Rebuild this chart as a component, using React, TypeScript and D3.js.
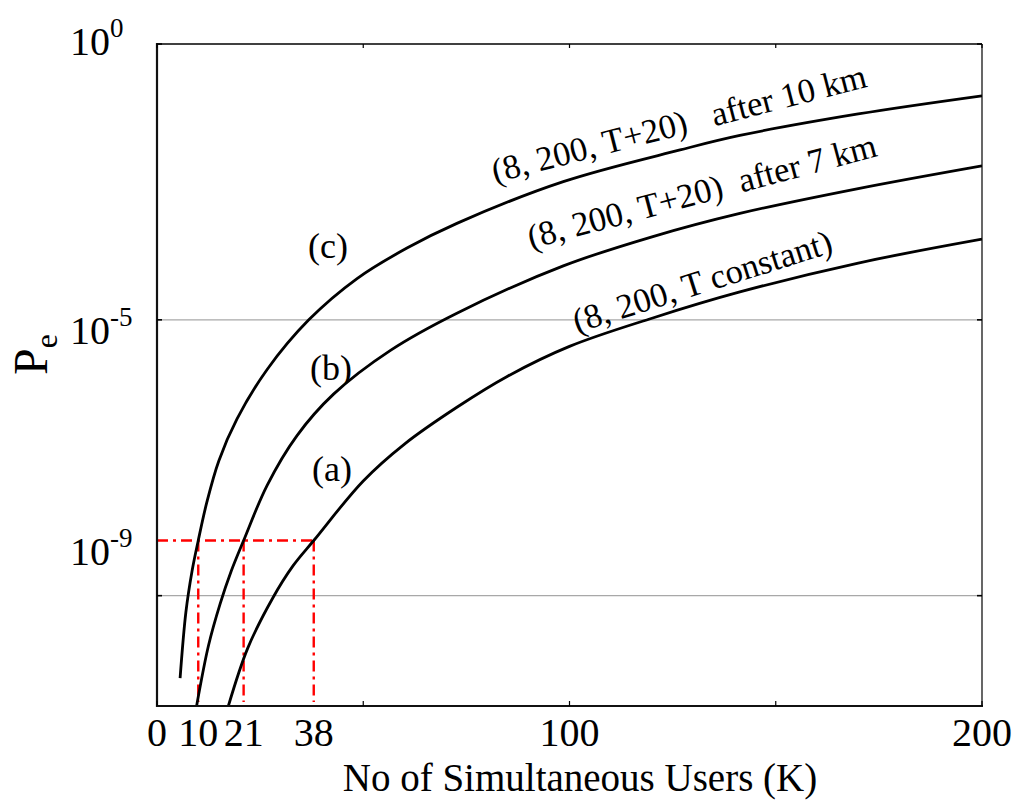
import React from "react";
import * as d3 from "d3";

// Users (K) and error probability Pe for the three fibre-length cases
const usersA = [17.3, 22, 28, 33, 38, 50, 60, 72.7, 85, 100, 120, 141.3, 170, 200];
const peA = [1.0e-12, 1.12e-11, 8.9e-11, 3.5e-10, 1.0e-9, 1.2e-8, 5.6e-8, 2.6e-7, 9.5e-7, 3.3e-6, 1.07e-5, 3.2e-5, 1.07e-4, 2.9e-4];

const usersB = [9.6, 12.5, 15.3, 18, 21, 26.7, 33.9, 42.8, 56.6, 72.7, 98.5, 120, 141.3, 170, 200];
const peB = [1.0e-12, 1.26e-11, 7.1e-11, 2.8e-10, 1.0e-9, 1.0e-8, 7.9e-8, 4.5e-7, 2.8e-6, 1.32e-5, 9.5e-5, 3.2e-4, 8.5e-4, 2.4e-3, 6.2e-3];

const usersC = [5.6, 7, 8.5, 10, 12.1, 15, 19.4, 26.7, 36.8, 48.5, 60.6, 72.7, 98.5, 126.8, 141.3, 170, 200];
const peC = [3.2e-12, 5.0e-11, 2.8e-10, 1.0e-9, 5.0e-9, 2.8e-8, 1.6e-7, 1.26e-6, 1.0e-5, 5.6e-5, 2.0e-4, 5.6e-4, 3.2e-3, 1.2e-2, 2.2e-2, 5.4e-2, 0.115];

// Users supported at the target error rate
const targetPe = 1e-9;
const supportedUsers = [10, 21, 38];

// Axis ticks
const xTickMarks = [0, 50, 100, 150, 200];
const xTickLabels = [0, 10, 21, 38, 100, 200];
const yGridValues = [1e-5, 1e-10];
const yTickMarks = [1, 1e-5, 1e-10];
const yTickLabels = [
  { value: 1, exp: "0" },
  { value: 1e-5, exp: "-5" },
  { value: 1e-9, exp: "-9" },
];

const W = 1019;
const H = 801;
const left = 157;
const right = 982;
const top = 44;
const bottom = 706;

const FONT = "'Liberation Serif', 'Times New Roman', serif";

export default function App() {
  const x = d3.scaleLinear().domain([0, 200]).range([left, right]);
  const y = d3.scaleLog().domain([1e-12, 1]).range([bottom, top]);

  const line = d3
    .line<[number, number]>()
    .x((d) => x(d[0]))
    .y((d) => y(d[1]))
    .curve(d3.curveCatmullRom.alpha(0.5));

  const series = [
    { users: usersA, pe: peA },
    { users: usersB, pe: peB },
    { users: usersC, pe: peC },
  ];

  const redDash = "11,5,3,5";
  const lastUser = supportedUsers[supportedUsers.length - 1];

  return (
    <svg
      width={W}
      height={H}
      style={{ position: "absolute", left: 0, top: 0, background: "#fff" }}
      fontFamily={FONT}
    >
      <defs>
        <clipPath id="plot">
          <rect x={left} y={top} width={right - left} height={bottom - top} />
        </clipPath>
      </defs>

      {/* horizontal grid */}
      {yGridValues.map((v) => (
        <line key={v} x1={left} x2={right} y1={y(v)} y2={y(v)} stroke="#a8a8a8" strokeWidth={1.4} />
      ))}

      {/* target error rate guides */}
      <line
        x1={x(0)}
        x2={x(lastUser)}
        y1={y(targetPe)}
        y2={y(targetPe)}
        stroke="#ff0000"
        strokeWidth={2.4}
        strokeDasharray={redDash}
      />
      {supportedUsers.map((u) => (
        <line
          key={u}
          x1={x(u)}
          x2={x(u)}
          y1={y(targetPe)}
          y2={bottom - 4}
          stroke="#ff0000"
          strokeWidth={2.4}
          strokeDasharray={redDash}
        />
      ))}

      {/* curves */}
      <g clipPath="url(#plot)">
        {series.map((s, i) => (
          <path
            key={i}
            d={line(s.users.map((u, j) => [u, s.pe[j]] as [number, number])) || ""}
            fill="none"
            stroke="#000"
            strokeWidth={2.8}
            strokeLinejoin="round"
          />
        ))}
      </g>

      {/* frame */}
      <line x1={left} x2={right} y1={top} y2={top} stroke="#000" strokeWidth={1.3} />
      <line x1={right} x2={right} y1={top} y2={bottom} stroke="#000" strokeWidth={1.2} />
      <line x1={left} x2={left} y1={top - 1} y2={bottom + 1} stroke="#111" strokeWidth={2.2} />
      <line x1={left - 1} x2={right + 1} y1={bottom} y2={bottom} stroke="#111" strokeWidth={2.2} />

      {/* tick marks */}
      {xTickMarks.map((v) => (
        <g key={v}>
          <line x1={x(v)} x2={x(v)} y1={bottom} y2={bottom - 5} stroke="#000" strokeWidth={1.2} />
          <line x1={x(v)} x2={x(v)} y1={top} y2={top + 4} stroke="#000" strokeWidth={1.2} />
        </g>
      ))}
      {yTickMarks.map((v) => (
        <g key={v}>
          <line x1={left} x2={left + 5} y1={y(v)} y2={y(v)} stroke="#000" strokeWidth={1.6} />
          <line x1={right} x2={right - 5} y1={y(v)} y2={y(v)} stroke="#000" strokeWidth={1.6} />
        </g>
      ))}

      {/* x tick labels */}
      {xTickLabels.map((v) => (
        <text key={v} x={x(v)} y={746} fontSize={40} textAnchor="middle" fill="#000">
          {v}
        </text>
      ))}

      {/* y tick labels */}
      {yTickLabels.map((t) => (
        <text key={t.exp} x={70} y={y(t.value) + (t.value === 1 ? 11 : 24)} fontSize={40} fill="#000">
          10
          <tspan dy={-18} fontSize={27}>
            {t.exp}
          </tspan>
        </text>
      ))}

      {/* axis titles */}
      <text x={580} y={791} fontSize={39} textAnchor="middle" fill="#000">
        No of Simultaneous Users (K)
      </text>
      <text transform="translate(47,375) rotate(-90)" fontSize={48} fill="#000">
        P
        <tspan dy={10} fontSize={32}>
          e
        </tspan>
      </text>

      {/* curve labels */}
      <text x={328} y={258} fontSize={36} textAnchor="middle">(c)</text>
      <text x={331} y={380} fontSize={36} textAnchor="middle">(b)</text>
      <text x={332} y={481} fontSize={36} textAnchor="middle">(a)</text>

      <text
        transform="translate(495,183) rotate(-14.5)"
        fontSize={34.5}
        style={{ whiteSpace: "pre" }}
      >
        {"(8, 200, T+20)   after 10 km"}
      </text>
      <text
        transform="translate(531,249) rotate(-15)"
        fontSize={34.5}
        style={{ whiteSpace: "pre" }}
      >
        {"(8, 200, T+20)  after 7 km"}
      </text>
      <text
        transform="translate(577,333) rotate(-17.5)"
        fontSize={34.5}
        style={{ whiteSpace: "pre" }}
      >
        {"(8, 200, T constant)"}
      </text>
    </svg>
  );
}
